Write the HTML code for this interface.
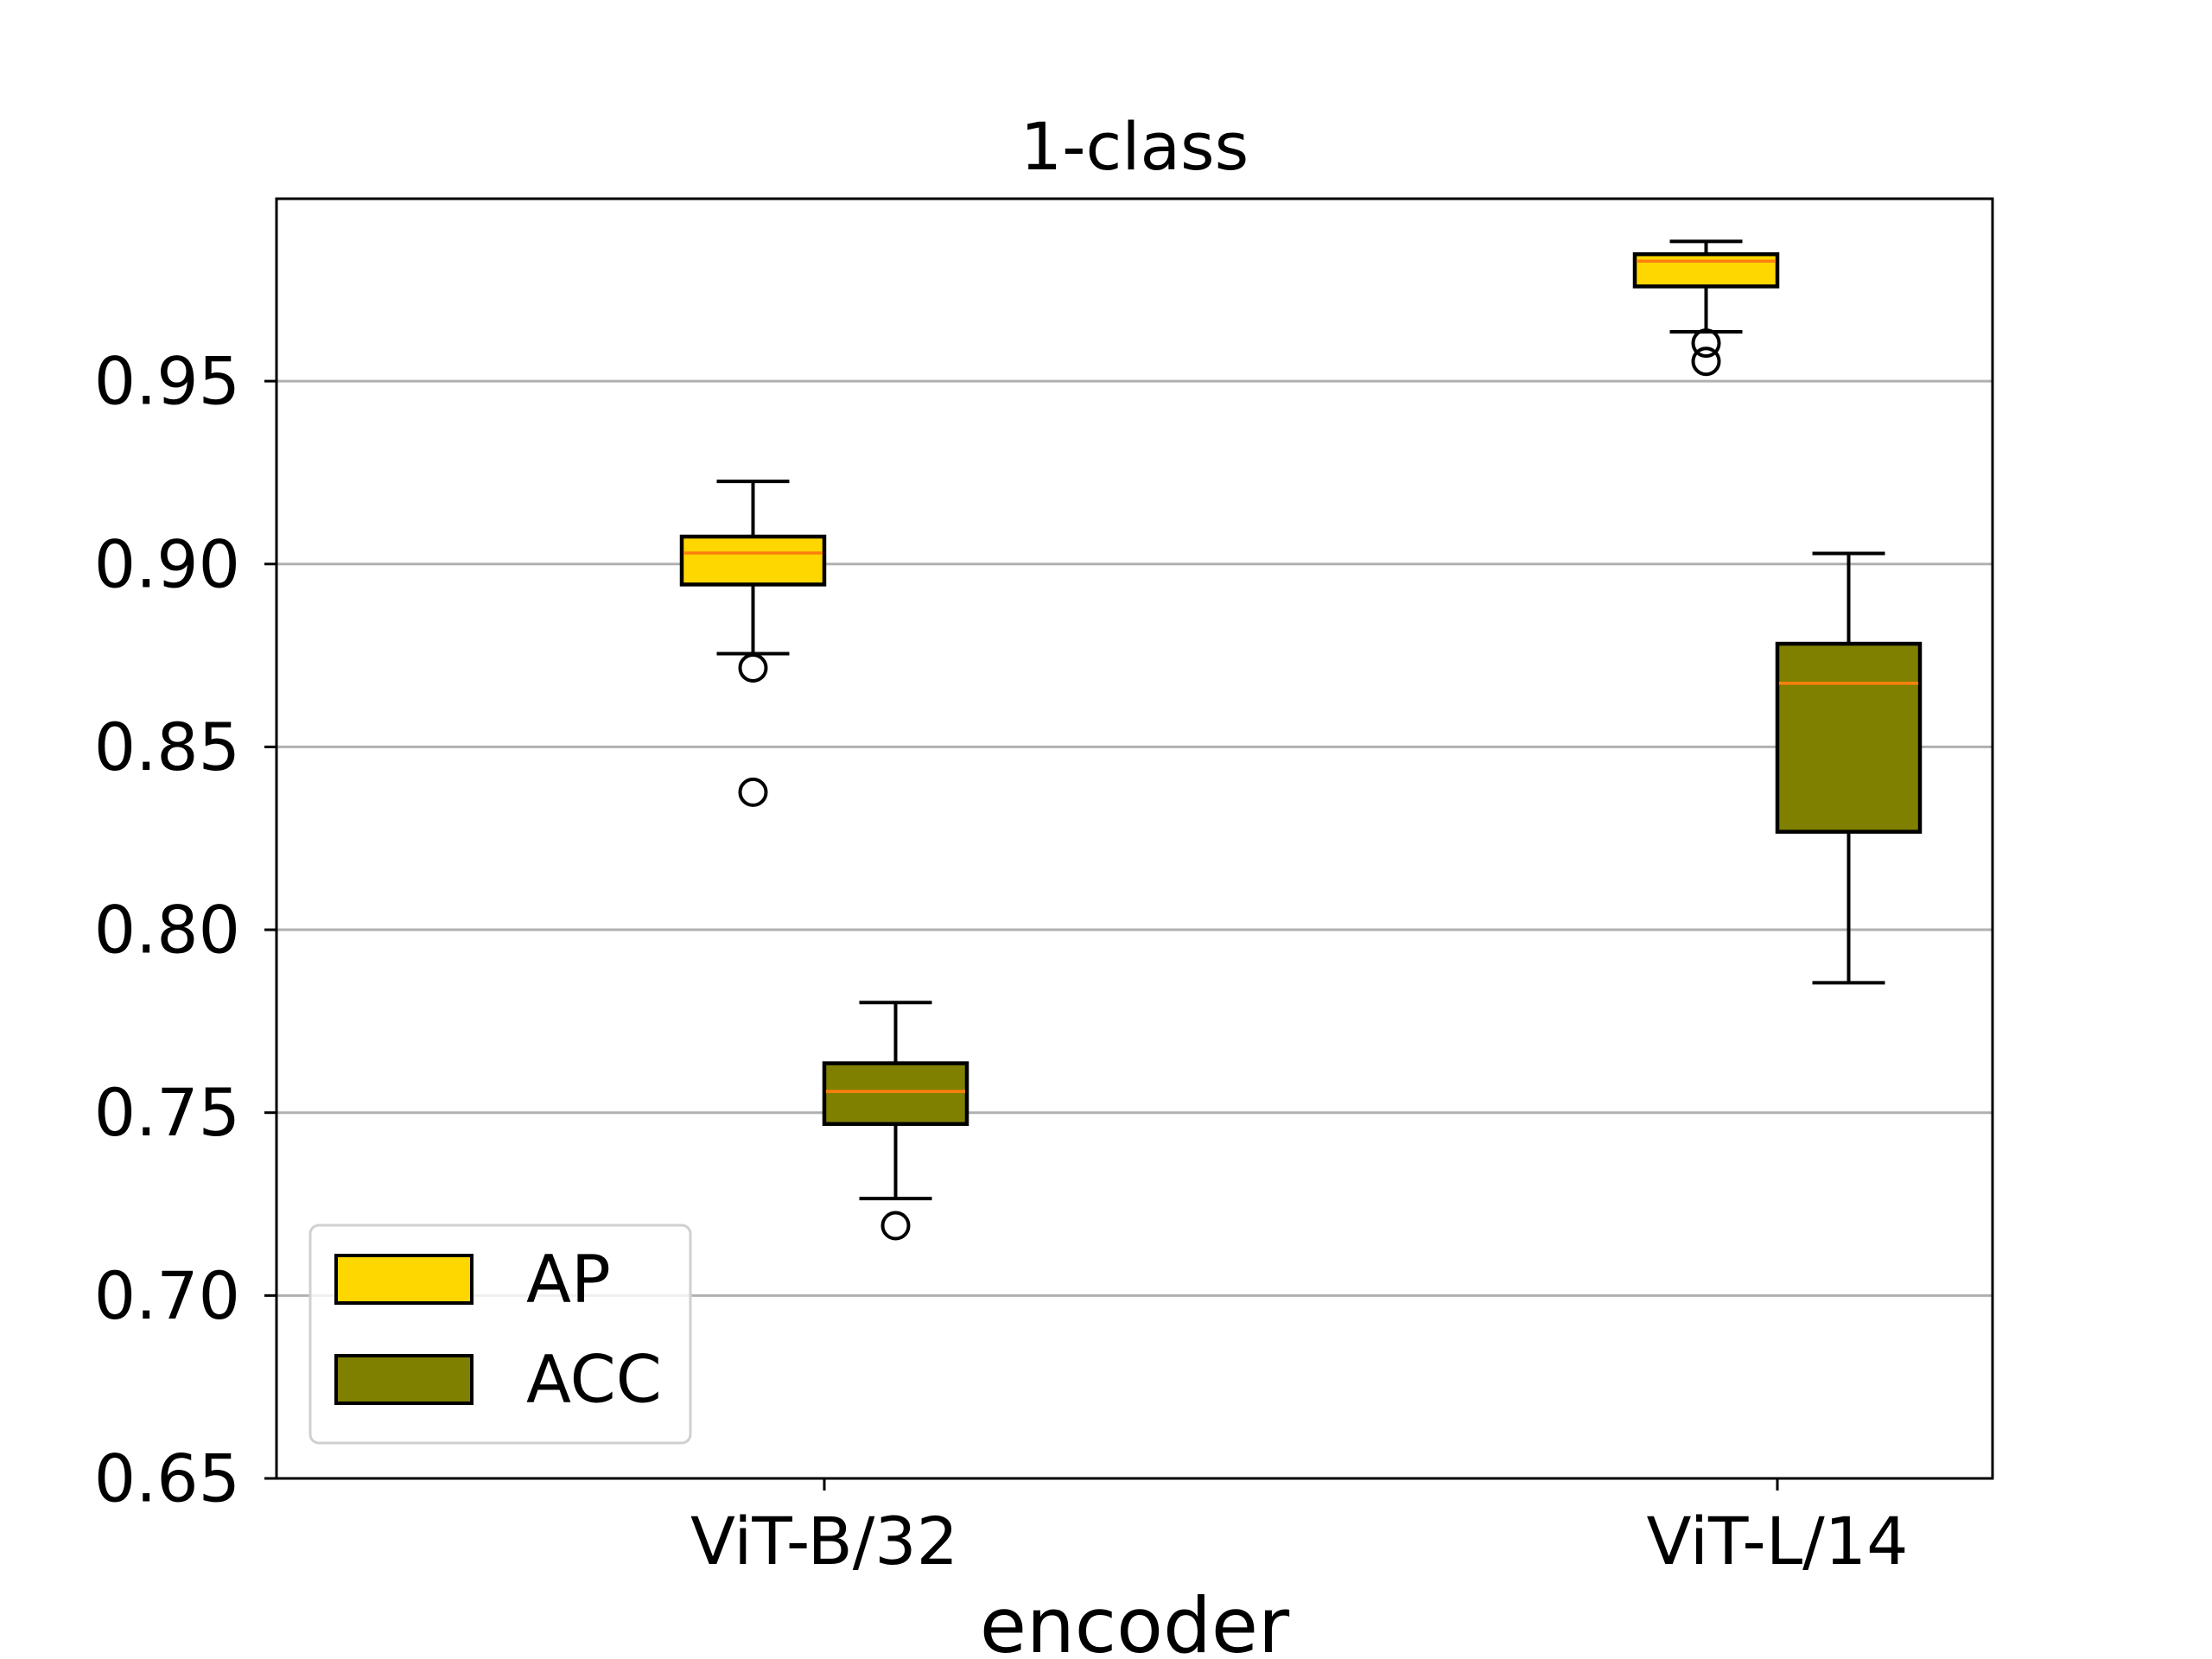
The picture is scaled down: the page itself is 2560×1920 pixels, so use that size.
<!DOCTYPE html>
<html><head><meta charset="utf-8"><style>
html,body{margin:0;padding:0;background:#fff}
svg{display:block}
text{font-family:"DejaVu Sans","Liberation Sans",sans-serif;fill:#000}
</style></head><body>
<svg id="chart" width="2560" height="1920" viewBox="0 0 2560 1920">
<rect width="2560" height="1920" fill="#fff"/>
<g id="grid"></g>
<g id="boxes"></g>
<rect x="320" y="230" width="1986" height="1481" fill="none" stroke="#000" stroke-width="3"/>
<g id="yticks"></g>
<g id="xticks"></g>
<text x="1313" y="196" font-size="76" text-anchor="middle">1-class</text>
<text x="1313" y="1912" font-size="88" text-anchor="middle">encoder</text>
<g>
<rect x="359" y="1418" width="440" height="252" rx="10" fill="#fff" fill-opacity="0.8" stroke="#d0d0d0" stroke-width="3"/>
<rect x="389" y="1453" width="157" height="55" fill="#FFD700" stroke="#000" stroke-width="4"/>
<text x="609" y="1480" font-size="76" dominant-baseline="central">AP</text>
<rect x="389" y="1569" width="157" height="55" fill="#808000" stroke="#000" stroke-width="4"/>
<text x="609" y="1596" font-size="76" dominant-baseline="central">ACC</text>
</g>
</svg>
<script>
const categories = ["ViT-B/32", "ViT-L/14"];
const seriesNames = ["AP", "ACC"];
const seriesColors = ["#FFD700", "#808000"];
// [whiskerLow, Q1, median, Q3, whiskerHigh] per category
const apStats = [[0.8755, 0.8944, 0.9030, 0.9075, 0.9226], [0.9635, 0.9759, 0.9828, 0.9847, 0.9882]];
const accStats = [[0.7265, 0.7469, 0.7558, 0.7635, 0.7801], [0.7855, 0.8268, 0.8674, 0.8782, 0.9029]];
const apOutliers = [[0.8716, 0.8376], [0.9604, 0.9554]];
const accOutliers = [[0.7191], []];
const yTicks = [0.65, 0.70, 0.75, 0.80, 0.85, 0.90, 0.95];
const yTickLabels = ["0.65", "0.70", "0.75", "0.80", "0.85", "0.90", "0.95"];

const NS = "http://www.w3.org/2000/svg";
const L = 320, R = 2306, T = 230, B = 1711;
const yMin = 0.65, yPerUnit = 4233;
function yS(v){ return B - (v - yMin) * yPerUnit; }
function xS(i){ return 954 + i * 1103; }
function mk(tag, attrs, parent){
  const e = document.createElementNS(NS, tag);
  for (const k in attrs) e.setAttribute(k, attrs[k]);
  parent.appendChild(e);
  return e;
}
const grid = document.getElementById('grid');
const yt = document.getElementById('yticks');
yTicks.forEach((v, i) => {
  const y = yS(v);
  if (v > yMin) {
    const g = mk('line', {x1: L, x2: R, y1: y, y2: y, stroke: '#b0b0b0', 'stroke-width': 3}, grid);
    
    
  }
  mk('line', {x1: L - 14, x2: L, y1: y, y2: y, stroke: '#000', 'stroke-width': 3}, yt);
  const t = mk('text', {x: L - 42, y: y, 'font-size': 76, 'text-anchor': 'end', 'dominant-baseline': 'central'}, yt);
  t.textContent = yTickLabels[i];
  
  
});
const xt = document.getElementById('xticks');
categories.forEach((c, i) => {
  const x = xS(i);
  mk('line', {x1: x, x2: x, y1: B, y2: B + 14, stroke: '#000', 'stroke-width': 3}, xt);
  const t = mk('text', {x: x, y: 1810, 'font-size': 76, 'text-anchor': 'middle'}, xt);
  t.textContent = c;
  
  
});
const boxes = document.getElementById('boxes');
const allStats = [apStats, accStats];
const allOut = [apOutliers, accOutliers];
const bw = 165, cap = 84;
allStats.forEach((stats, s) => {
  stats.forEach((st, i) => {
    const cx = xS(i) + (s === 0 ? -82.5 : 82.5);
    const g = mk('g', {}, boxes);
    
    
    const ln = {stroke: '#000', 'stroke-width': 4};
    mk('line', Object.assign({x1: cx, x2: cx, y1: yS(st[0]), y2: yS(st[1])}, ln), g);
    mk('line', Object.assign({x1: cx, x2: cx, y1: yS(st[3]), y2: yS(st[4])}, ln), g);
    mk('line', Object.assign({x1: cx - cap/2, x2: cx + cap/2, y1: yS(st[0]), y2: yS(st[0])}, ln), g);
    mk('line', Object.assign({x1: cx - cap/2, x2: cx + cap/2, y1: yS(st[4]), y2: yS(st[4])}, ln), g);
    mk('rect', {x: cx - bw/2, y: yS(st[3]), width: bw, height: yS(st[1]) - yS(st[3]), fill: seriesColors[s], stroke: '#000', 'stroke-width': 4.5}, g);
    mk('line', {x1: cx - bw/2 + 2, x2: cx + bw/2 - 2, y1: yS(st[2]), y2: yS(st[2]), stroke: '#ff7f0e', 'stroke-width': 3.5}, g);
    allOut[s][i].forEach(o => {
      const c = mk('circle', {cx: cx, cy: yS(o), r: 15, fill: 'none', stroke: '#000', 'stroke-width': 4}, g);
      
      
    });
  });
});
</script>
</body></html>
